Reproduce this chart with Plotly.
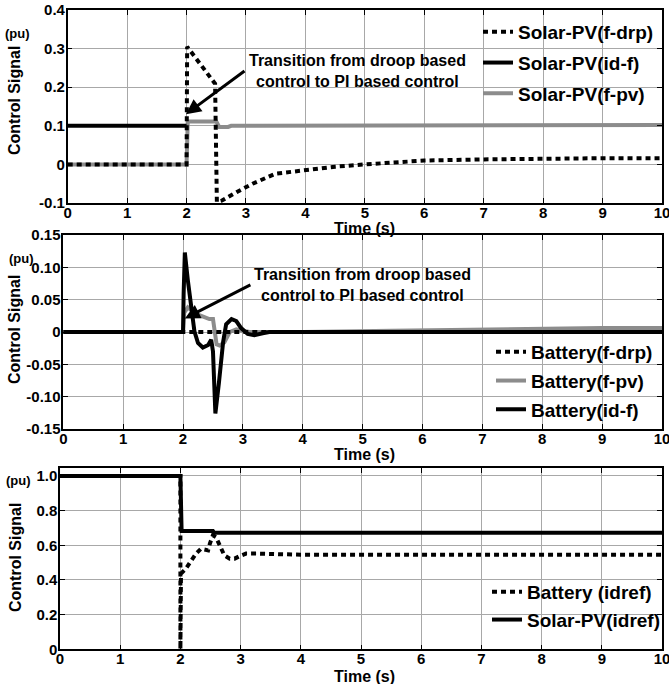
import plotly.graph_objects as go

W, H = 669, 684
FONT = "Liberation Sans, Arial, sans-serif"
GRAY = "#8c8c8c"

# ---------------- data ----------------
# Panel 1 : Solar-PV
p1_fdrp_t = [0, 2.0, 2.01, 2.48, 2.51, 2.59, 2.84, 3.11, 3.5, 4.0, 4.5, 5.0, 5.5, 6.0, 7.0, 8.0, 9.0, 10.0]
p1_fdrp_v = [0, 0, 0.305, 0.209, -0.097, -0.094, -0.072, -0.05, -0.024, -0.015, -0.006, 0.0, 0.006, 0.010, 0.013, 0.015, 0.016, 0.016]
p1_idf_t = [0, 2.0]
p1_idf_v = [0.1, 0.1]
p1_fpv_t = [0, 2.0, 2.02, 2.5, 2.55, 2.7, 2.75, 6.4, 6.45, 10.0]
p1_fpv_v = [0, 0, 0.111, 0.111, 0.097, 0.097, 0.1, 0.1, 0.102, 0.102]

# Panel 2 : Battery
p2_fdrp_t = [0, 10.0]
p2_fdrp_v = [0, 0]
p2_fpv_t = [0, 2.0, 2.02, 2.08, 2.22, 2.44, 2.5, 2.56, 2.61, 2.69, 2.78, 2.89, 3.11, 4.0, 5.5, 7.0, 8.0, 9.0, 10.0]
p2_fpv_v = [0, 0, 0.03, 0.038, 0.028, 0.02, 0.02, -0.019, -0.021, -0.016, 0.0, 0.004, 0.0, 0.0, 0.002, 0.004, 0.005, 0.006, 0.006]
p2_idf_t = [0, 2.0, 2.01, 2.03, 2.08, 2.14, 2.19, 2.25, 2.33, 2.42, 2.47, 2.5, 2.54, 2.6, 2.67, 2.72, 2.81, 2.89, 2.97, 3.08, 3.19, 3.33, 3.44, 10.0]
p2_idf_v = [0, 0, 0.06, 0.123, 0.08, 0.038, 0.001, -0.017, -0.024, -0.02, -0.012, -0.03, -0.126, -0.078, -0.015, 0.012, 0.02, 0.017, 0.006, -0.003, -0.005, -0.002, 0.0, 0.0]

# Panel 3 : idref
p3_bat_t = [0, 2.0, 2.0, 2.01, 2.09, 2.18, 2.26, 2.34, 2.46, 2.49, 2.54, 2.59, 2.66, 2.73, 2.82, 2.9, 2.98, 3.09, 3.26, 4.0, 10.0]
p3_bat_v = [1.0, 1.0, 0.0, 0.437, 0.465, 0.513, 0.552, 0.58, 0.571, 0.61, 0.658, 0.648, 0.59, 0.542, 0.523, 0.523, 0.537, 0.552, 0.552, 0.546, 0.546]
p3_pv_t = [0, 2.0, 2.02, 2.54, 2.56, 10.0]
p3_pv_v = [1.0, 1.0, 0.683, 0.683, 0.673, 0.673]

xticks = [0, 1, 2, 3, 4, 5, 6, 7, 8, 9, 10]
xticktext = ["0", "1", "2", "3", "4", "5", "6", "7", "8", "9", "10"]
y1_ticks = [-0.1, 0, 0.1, 0.2, 0.3, 0.4]
y1_text = ["-0.1", "0", "0.1", "0.2", "0.3", "0.4"]
y2_ticks = [-0.15, -0.10, -0.05, 0, 0.05, 0.10, 0.15]
y2_text = ["-0.15", "-0.10", "-0.05", "0", "0.05", "0.10", "0.15"]
y3_ticks = [0, 0.2, 0.4, 0.6, 0.8, 1.0]
y3_text = ["0", "0.2", "0.4", "0.6", "0.8", "1.0"]

# ---------------- layout helpers ----------------
def px_x(p):
    return p / W

def px_y(p):
    return 1 - p / H

DOT = "5px,4px"
fig = go.Figure()

def line(t, v, name, xa, ya, legend, color, dash, rank, group):
    fig.add_trace(go.Scatter(
        x=t, y=v, mode="lines", name=name, xaxis=xa, yaxis=ya,
        legend=legend, legendrank=rank, legendgroup=group,
        line=dict(color=color, width=4, dash=dash),
    ))

# panel 1 (draw order: gray, black, dotted)
line(p1_fpv_t, p1_fpv_v, "Solar-PV(f-pv)", "x", "y", "legend", GRAY, "solid", 3, "a3")
line(p1_idf_t, p1_idf_v, "Solar-PV(id-f)", "x", "y", "legend", "black", "solid", 2, "a2")
line(p1_fdrp_t, p1_fdrp_v, "Solar-PV(f-drp)", "x", "y", "legend", "black", DOT, 1, "a1")
# panel 2
line(p2_fpv_t, p2_fpv_v, "Battery(f-pv)", "x2", "y2", "legend2", GRAY, "solid", 2, "b2")
line(p2_idf_t, p2_idf_v, "Battery(id-f)", "x2", "y2", "legend2", "black", "solid", 3, "b3")
line(p2_fdrp_t, p2_fdrp_v, "Battery(f-drp)", "x2", "y2", "legend2", "black", DOT, 1, "b1")
# panel 3
line(p3_pv_t, p3_pv_v, "Solar-PV(idref)", "x3", "y3", "legend3", "black", "solid", 2, "c2")
line(p3_bat_t, p3_bat_v, "Battery (idref)", "x3", "y3", "legend3", "black", DOT, 1, "c1")

tickfont = dict(family=FONT, size=15, color="black", weight="bold")

def xaxis(dom, anchor):
    return dict(domain=dom, anchor=anchor, range=[0, 10], tickvals=xticks, ticktext=xticktext,
                showgrid=True, gridcolor="#a8a8a8", gridwidth=1, zeroline=False,
                showline=True, linecolor="black", linewidth=1.5, mirror="ticks",
                ticks="inside", ticklen=5, tickcolor="black", tickfont=tickfont,
                ticklabelstandoff=-5, automargin=False, ticklabeloverflow="allow")

def yaxis(dom, anchor, rng, tv, tt):
    return dict(domain=dom, anchor=anchor, range=rng, tickvals=tv, ticktext=tt,
                showgrid=True, gridcolor="#a8a8a8", gridwidth=1, zeroline=False,
                showline=True, linecolor="black", linewidth=1.5, mirror="ticks",
                ticks="inside", ticklen=5, tickcolor="black", tickfont=tickfont,
                ticklabelstandoff=-2, automargin=False, ticklabeloverflow="allow")

p1 = dict(l=67.7, r=662, t=10, b=203)
p2 = dict(l=63.3, r=662, t=235, b=429)
p3 = dict(l=60, r=662, t=468, b=649.3)

legfont = dict(family=FONT, size=19, color="black", weight="bold")

fig.update_layout(
    width=W, height=H, margin=dict(l=0, r=0, t=0, b=0, autoexpand=False),
    paper_bgcolor="white", plot_bgcolor="white",
    xaxis=xaxis([px_x(p1["l"]), px_x(p1["r"])], "y"),
    yaxis=yaxis([px_y(p1["b"]), px_y(p1["t"])], "x", [-0.1, 0.4], y1_ticks, y1_text),
    xaxis2=xaxis([px_x(p2["l"]), px_x(p2["r"])], "y2"),
    yaxis2=yaxis([px_y(p2["b"]), px_y(p2["t"])], "x2", [-0.15, 0.15], y2_ticks, y2_text),
    xaxis3=xaxis([px_x(p3["l"]), px_x(p3["r"])], "y3"),
    yaxis3=yaxis([px_y(p3["b"]), px_y(p3["t"])], "x3", [0, 1.046], y3_ticks, y3_text),
    legend=dict(x=px_x(478), y=px_y(13), xanchor="left", yanchor="top", bgcolor="rgba(0,0,0,0)",
                font=legfont, tracegroupgap=3, itemwidth=30),
    legend2=dict(x=px_x(491), y=px_y(333), xanchor="left", yanchor="top", bgcolor="rgba(0,0,0,0)",
                 font=legfont, tracegroupgap=1, itemwidth=30),
    legend3=dict(x=px_x(487), y=px_y(573), xanchor="left", yanchor="top", bgcolor="rgba(0,0,0,0)",
                 font=legfont, tracegroupgap=0, itemwidth=30),
    showlegend=True,
)

annfont = dict(family=FONT, size=16, color="black", weight="bold")
anns = []
# y titles, (pu), Time (s)
for cy, pu_x, pu_y, time_y in [(101, 17, 33, 229), (330, 21, 258, 454), (558, 18, 480, 676)]:
    anns.append(dict(x=px_x(15), y=px_y(cy), xref="paper", yref="paper", text="Control Signal",
                     textangle=-90, showarrow=False, font=annfont, xanchor="center", yanchor="middle"))
    anns.append(dict(x=px_x(pu_x), y=px_y(pu_y), xref="paper", yref="paper", text="(pu)",
                     showarrow=False, font=dict(family=FONT, size=13, color="black", weight="bold"),
                     xanchor="center", yanchor="middle"))
    anns.append(dict(x=px_x(364), y=px_y(time_y), xref="paper", yref="paper", text="Time (s)",
                     showarrow=False, font=annfont, xanchor="center", yanchor="middle"))

trans_text = "Transition from droop based<br>control to PI based control"
anns.append(dict(x=4.87, y=0.242, xref="x", yref="y", text=trans_text, showarrow=False,
                 font=annfont, xanchor="center", yanchor="middle"))
anns.append(dict(x=1.99, y=0.13, xref="x", yref="y", ax=3.0, ay=0.245, axref="x", ayref="y",
                 text="", showarrow=True, arrowhead=2, arrowsize=1, arrowwidth=3, arrowcolor="black"))
anns.append(dict(x=5.0, y=0.072, xref="x2", yref="y2", text=trans_text, showarrow=False,
                 font=annfont, xanchor="center", yanchor="middle"))
anns.append(dict(x=2.03, y=0.021, xref="x2", yref="y2", ax=3.15, ay=0.074, axref="x2", ayref="y2",
                 text="", showarrow=True, arrowhead=2, arrowsize=1, arrowwidth=3, arrowcolor="black"))
fig.update_layout(annotations=anns)

fig.write_html("out.html", config={"displayModeBar": False},
               post_script="document.body.style.margin='0';document.body.style.overflow='hidden';")
